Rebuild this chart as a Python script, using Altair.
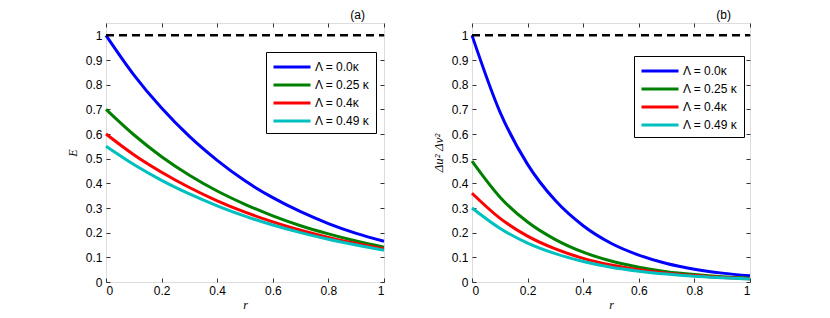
import altair as alt
import pandas as pd

r_vals = [0.0, 0.1, 0.2, 0.3, 0.4, 0.5, 0.6, 0.7, 0.8, 0.9, 1.0]
series = ["Λ = 0.0κ", "Λ = 0.25 κ", "Λ = 0.4κ", "Λ = 0.49 κ"]
colors = ["#0000ff", "#008000", "#ff0000", "#00bfbf"]

# panel (a): E
a_blue = [1.0, 0.84, 0.705, 0.59, 0.493, 0.41, 0.342, 0.285, 0.237, 0.197, 0.165]
a_green = [0.70, 0.597, 0.508, 0.433, 0.369, 0.315, 0.268, 0.228, 0.195, 0.166, 0.141]
a_red = [0.60, 0.516, 0.445, 0.383, 0.329, 0.283, 0.244, 0.210, 0.181, 0.156, 0.134]
a_cyan = [0.55, 0.476, 0.412, 0.357, 0.309, 0.267, 0.231, 0.200, 0.173, 0.150, 0.129]

# panel (b): Δu² Δv²
b_blue = [1.0, 0.691, 0.477, 0.330, 0.228, 0.157, 0.109, 0.075, 0.052, 0.036, 0.025]
b_green = [0.49, 0.345, 0.243, 0.172, 0.121, 0.085, 0.060, 0.042, 0.030, 0.021, 0.015]
b_red = [0.36, 0.259, 0.186, 0.134, 0.096, 0.069, 0.050, 0.036, 0.026, 0.018, 0.013]
b_cyan = [0.30, 0.218, 0.158, 0.115, 0.083, 0.060, 0.044, 0.032, 0.023, 0.017, 0.012]

ref_r = [0.0, 1.0]
ref_v = [1.0, 1.0]

x_ticks = [0, 0.2, 0.4, 0.6, 0.8, 1.0]
y_ticks = [0, 0.1, 0.2, 0.3, 0.4, 0.5, 0.6, 0.7, 0.8, 0.9, 1.0]


def frame(curves):
    rows = []
    for name, vals in zip(series, curves):
        for r, v in zip(r_vals, vals):
            rows.append({"r": r, "v": v, "s": name})
    return pd.DataFrame(rows)


ref_df = pd.DataFrame({"r": ref_r, "v": ref_v})

AX = "#333333"
FONT = "Liberation Sans"


def panel(df, ylab, title, lx, ly, ytfont, ytsize):
    lines = alt.Chart(df).mark_line(strokeWidth=3, interpolate="monotone").encode(
        x=alt.X("r:Q", scale=alt.Scale(domain=[0, 1], nice=False),
                axis=alt.Axis(values=x_ticks, format="~g", title="r", offset=-4,
                              tickSize=4, tickColor=AX, domain=False, grid=False,
                              labelPadding=3, labelFont=FONT, labelFontSize=12,
                              labelColor="black", titleFont="Liberation Serif",
                              titleFontStyle="italic", titleFontWeight="normal",
                              titleFontSize=12, titlePadding=3)),
        y=alt.Y("v:Q", scale=alt.Scale(domain=[0, 1.05], nice=False),
                axis=alt.Axis(values=y_ticks, format="~g", title=ylab, offset=-4,
                              tickSize=4, tickColor=AX, domain=False, grid=False,
                              labelPadding=4, labelFont=FONT, labelFontSize=12,
                              labelColor="black", titleFont=ytfont,
                              titleFontStyle="italic", titleFontWeight="normal",
                              titleFontSize=ytsize, titlePadding=6)),
        color=alt.Color("s:N", sort=series,
                        scale=alt.Scale(domain=series, range=colors),
                        legend=alt.Legend(title=None, orient="none", legendX=lx,
                                          legendY=ly, symbolType="M-2.5,0H2.5",
                                          symbolSize=219, symbolStrokeWidth=3,
                                          symbolOffset=11, symbolFillColor="transparent",
                                          labelFont=FONT, labelFontSize=12,
                                          labelColor="black", labelOffset=14,
                                          strokeColor="black", fillColor="white",
                                          padding=6, rowPadding=3)),
    )
    ref = alt.Chart(ref_df).mark_line(strokeWidth=2.5, strokeDash=[8, 5], color="black").encode(
        x=alt.X("r:Q", axis=alt.Axis(orient="top", values=x_ticks, labels=False,
                                     title=None, offset=-4, tickSize=4, tickColor=AX,
                                     domain=False, grid=False)),
        y=alt.Y("v:Q", axis=alt.Axis(orient="right", values=y_ticks, labels=False,
                                     title=None, offset=-4, tickSize=4, tickColor=AX,
                                     domain=False, grid=False)),
    )
    return alt.layer(lines, ref).resolve_axis(x="independent", y="independent").properties(
        width=278, height=259,
        title=alt.TitleParams(title, anchor="end", dx=-25, fontSize=12,
                              fontWeight="normal", font=FONT, offset=1, color="black"),
    )


pa = panel(frame([a_blue, a_green, a_red, a_cyan]), "E", "(a)", 160, 29,
           "Liberation Serif", 12)
pb = panel(frame([b_blue, b_green, b_red, b_cyan]), "Δu² Δv²", "(b)", 162, 33,
           "Liberation Serif", 13)

chart = alt.hconcat(pa, pb, spacing=40).resolve_scale(color="independent").properties(
    padding={"left": 57, "top": 0, "right": 0, "bottom": 0}
).configure_view(stroke=AX, strokeWidth=1).configure(background="white")

chart.save("out.html", embed_options={"renderer": "svg", "actions": False})
